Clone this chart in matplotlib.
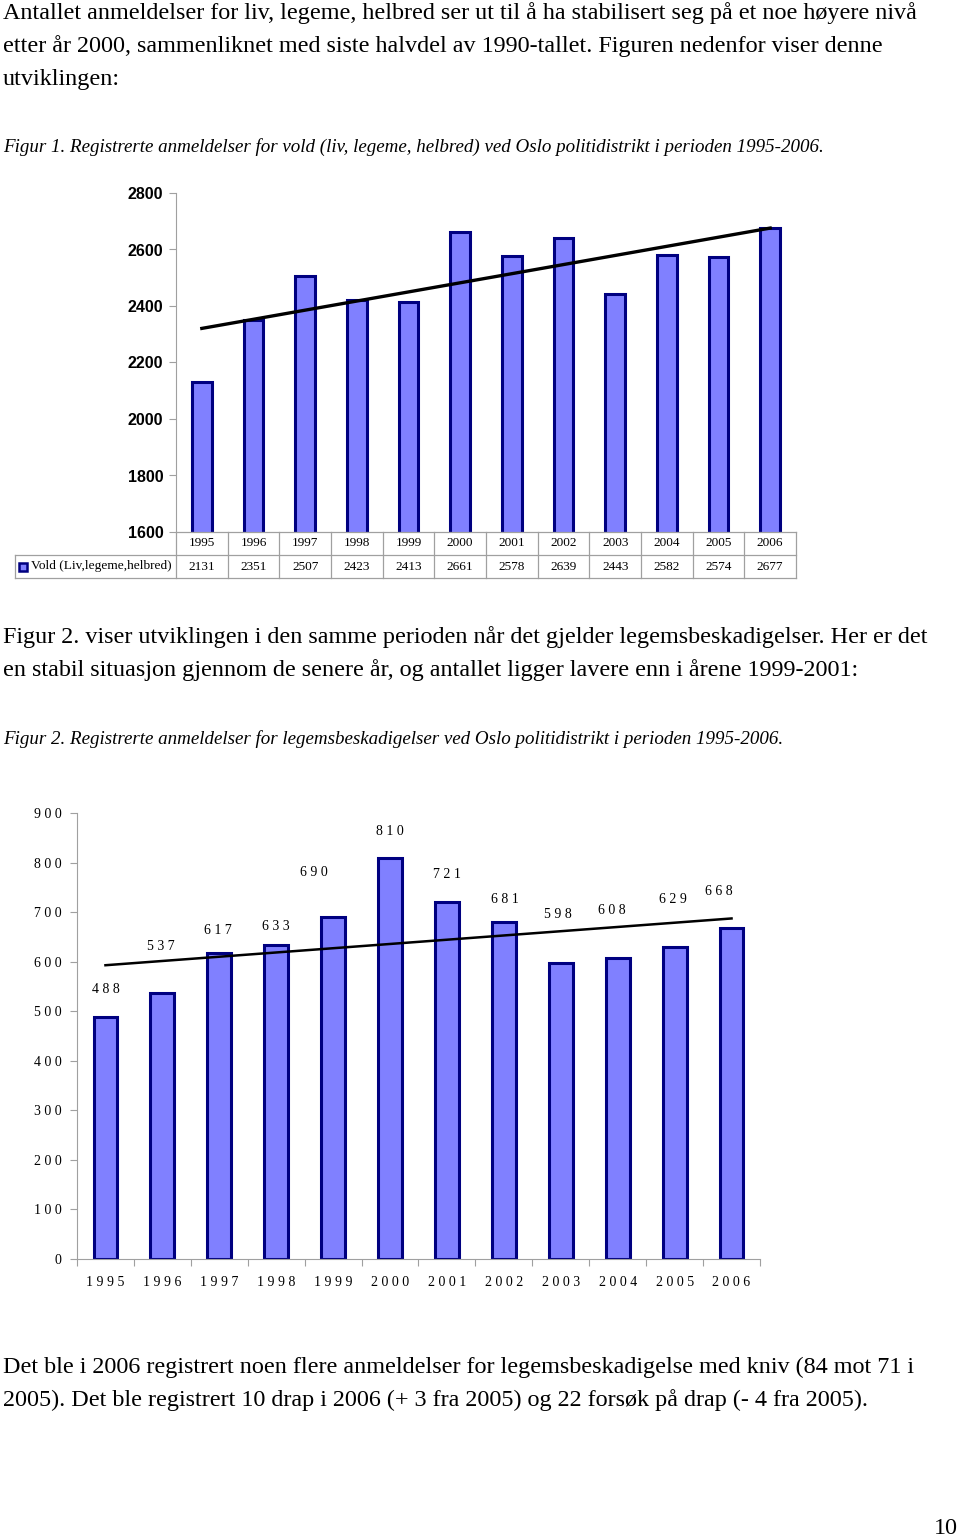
import numpy as np
import matplotlib
matplotlib.use('Agg')
import matplotlib.pyplot as plt
from matplotlib.patches import Rectangle

W, H = 960, 1539

years = ['1995', '1996', '1997', '1998', '1999', '2000', '2001', '2002', '2003', '2004', '2005', '2006']
vold = [2131, 2351, 2507, 2423, 2413, 2661, 2578, 2639, 2443, 2582, 2574, 2677]
legeme = [488, 537, 617, 633, 690, 810, 721, 681, 598, 608, 629, 668]
series_name = 'Vold (Liv,legeme,helbred)'
yticks1 = [1600, 1800, 2000, 2200, 2400, 2600, 2800]
yticks2 = [0, 100, 200, 300, 400, 500, 600, 700, 800, 900]

para1 = ['Antallet anmeldelser for liv, legeme, helbred ser ut til å ha stabilisert seg på et noe høyere nivå',
         'etter år 2000, sammenliknet med siste halvdel av 1990-tallet. Figuren nedenfor viser denne',
         'utviklingen:']
caption1 = 'Figur 1. Registrerte anmeldelser for vold (liv, legeme, helbred) ved Oslo politidistrikt i perioden 1995-2006.'
para2 = ['Figur 2. viser utviklingen i den samme perioden når det gjelder legemsbeskadigelser. Her er det',
         'en stabil situasjon gjennom de senere år, og antallet ligger lavere enn i årene 1999-2001:']
caption2 = 'Figur 2. Registrerte anmeldelser for legemsbeskadigelser ved Oslo politidistrikt i perioden 1995-2006.'
para3 = ['Det ble i 2006 registrert noen flere anmeldelser for legemsbeskadigelse med kniv (84 mot 71 i',
         '2005). Det ble registrert 10 drap i 2006 (+ 3 fra 2005) og 22 forsøk på drap (- 4 fra 2005).']

BAR = '#8080ff'
EDGE = '#000080'
GRID = '#a0a0a0'
SERIF = 'Liberation Serif'
SANS = 'Liberation Sans'

fig = plt.figure(figsize=(W / 100, H / 100), dpi=100)


def fy(y):
    return 1 - y / H


def ftext(x, y, s, **kw):
    fig.text(x / W, fy(y), s, va='center', ha='left', family=SERIF, **kw)


# page text
for i, line in enumerate(para1):
    ftext(3, 13 + 33 * i, line, fontsize=17.4)
ftext(3, 147, caption1, fontsize=13.7, style='italic')
for i, line in enumerate(para2):
    ftext(3, 637 + 33 * i, line, fontsize=17.4)
ftext(3, 739, caption2, fontsize=13.7, style='italic')
for i, line in enumerate(para3):
    ftext(3, 1367 + 33 * i, line, fontsize=17.4)
fig.text(958 / W, fy(1528), '10', ha='right', va='center', family=SERIF, fontsize=17.4)

# ---- Figur 1 ----
l1, r1, t1, b1 = 176, 796, 193, 532
ax1 = fig.add_axes([l1 / W, fy(b1), (r1 - l1) / W, (b1 - t1) / H])
x = np.arange(len(years))
ax1.bar(x, vold, width=0.38, bottom=0, color=BAR, edgecolor=EDGE, linewidth=2.2, zorder=2)
k, m = np.polyfit(x, vold, 1)
ax1.plot([x[0], x[-1]], [m, k * x[-1] + m], color='black', lw=2.4, zorder=3)
ax1.set_xlim(-0.5, len(years) - 0.5)
ax1.set_ylim(1600, 2800)
ax1.set_yticks(yticks1)
ax1.set_yticklabels([str(v) for v in yticks1], family=SANS, fontsize=11.5, fontweight='bold')
ax1.set_xticks([])
for s in ['top', 'right', 'bottom']:
    ax1.spines[s].set_visible(False)
ax1.spines['left'].set_color(GRID)
ax1.tick_params(axis='y', length=5, color=GRID, pad=4)

# data table under the plot
rh = 23 / (b1 - t1)
cw = (r1 - l1) / len(years)
tr = ax1.get_xaxis_transform()
kw = dict(transform=tr, clip_on=False, color=GRID, lw=0.9)
left_leg = -0.5 - (l1 - 15) / cw
ax1.plot([-0.5, len(years) - 0.5], [0, 0], **kw)
ax1.plot([left_leg, len(years) - 0.5], [-rh, -rh], **kw)
ax1.plot([left_leg, len(years) - 0.5], [-2 * rh, -2 * rh], **kw)
ax1.plot([left_leg, left_leg], [-rh, -2 * rh], **kw)
for b in np.arange(len(years) + 1) - 0.5:
    ax1.plot([b, b], [0, -2 * rh], **kw)
for i, (yr, v) in enumerate(zip(years, vold)):
    ax1.text(i, -0.5 * rh, yr, transform=tr, ha='center', va='center', family=SERIF, fontsize=9.5)
    ax1.text(i, -1.5 * rh, str(v), transform=tr, ha='center', va='center', family=SERIF, fontsize=9.5)
sq = 8 / (b1 - t1)
ax1.add_patch(Rectangle((left_leg + 4 / cw, -1.5 * rh - sq / 2), 8 / cw, sq, transform=tr, clip_on=False,
                        facecolor=BAR, edgecolor=EDGE, lw=1.8))
ax1.text(left_leg + 16 / cw, -1.5 * rh, series_name, transform=tr, ha='left', va='center',
         family=SERIF, fontsize=9.6)

# ---- Figur 2 ----
l2, r2, t2, b2 = 77, 760, 813, 1259
ax2 = fig.add_axes([l2 / W, fy(b2), (r2 - l2) / W, (b2 - t2) / H])
ax2.bar(x, legeme, width=0.42, color=BAR, edgecolor=EDGE, linewidth=2.2, zorder=2)
k2, m2 = np.polyfit(x, legeme, 1)
ax2.plot([x[0], x[-1]], [m2, k2 * x[-1] + m2], color='black', lw=1.8, zorder=3)
ax2.set_xlim(-0.5, len(years) - 0.5)
ax2.set_ylim(0, 900)
ax2.set_yticks(yticks2)
ax2.set_yticklabels([' '.join(str(v)) for v in yticks2], family=SERIF, fontsize=10)
ax2.set_xticks(np.arange(len(years) + 1) - 0.5)
ax2.set_xticklabels([])
ax2.set_xticks(x, minor=True)
ax2.set_xticklabels([' '.join(y) for y in years], minor=True, family=SERIF, fontsize=10)
ax2.tick_params(axis='x', which='major', length=5, color=GRID)
ax2.tick_params(axis='x', which='minor', length=0, pad=12)
ax2.tick_params(axis='y', length=5, color=GRID, pad=6)
for s in ['top', 'right']:
    ax2.spines[s].set_visible(False)
for s in ['left', 'bottom']:
    ax2.spines[s].set_color(GRID)

# value labels (offsets in pixels as placed in the original)
lab_dx = [0, -2, -1, 0, -19, 0, 0, 1, -3, -6, -2, -13]
lab_dy = [28, 46, 23, 19, 45, 26, 27, 22, 48, 47, 48, 36]
for i, v in enumerate(legeme):
    ax2.annotate(' '.join(str(v)), (i, v), xytext=(lab_dx[i], lab_dy[i]), textcoords='offset pixels',
                 ha='center', va='center', family=SERIF, fontsize=10)

fig.savefig('out.png', dpi=100)
